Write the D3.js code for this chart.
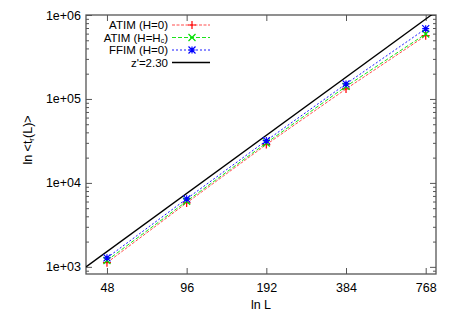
<!DOCTYPE html>
<html>
<head>
<meta charset="utf-8">
<script src="https://cdn.jsdelivr.net/npm/d3@7"></script>
<style>
  body { margin: 0; background: #fff; }
  svg { font-family: "Liberation Sans", Arial, sans-serif; }
</style>
</head>
<body>
<script>
// system sizes and relaxation times
const sizes = [48, 96, 192, 384, 768];
const atimH0 = [1120, 5780, 28600, 131500, 567000];
const atimHc = [1190, 6040, 29900, 141000, 594000];
const ffimH0 = [1280, 6460, 31900, 151000, 687000];

// power law guide: t = fitA * (L / fitL0)^fitZ
const fitZ = 2.30;
const fitA = 1000;
const fitL0 = 40;

const xTicks = [48, 96, 192, 384, 768];
const yTicks = [1e3, 1e4, 1e5, 1e6];

const width = 450, height = 315;
const margin = {left: 86, right: 14, top: 15, bottom: 41};
const iw = width - margin.left - margin.right;
const ih = height - margin.top - margin.bottom;
const fs = "12.5px";

const svg = d3.select("body").append("svg")
    .attr("width", width)
    .attr("height", height);

const x = d3.scaleLog().base(2).domain([40, 840]).range([0, iw]);
const y = d3.scaleLog().domain([822, 1e6]).range([ih, 0]);

svg.append("defs").append("clipPath").attr("id", "clip")
    .append("rect").attr("width", iw).attr("height", ih);

const g = svg.append("g").attr("transform", `translate(${margin.left},${margin.top})`);

const axisColor = "#555";

// minor y ticks (2..9 each decade)
let minorY = [];
for (let d = 100; d < 1e6; d *= 10) {
    for (let k = 2; k < 10; k++) {
        let v = d * k;
        if (v > y.domain()[0] && v < 1e6) minorY.push(v);
    }
}

// y ticks on both sides
g.append("g").call(d3.axisLeft(y).tickValues(yTicks).tickSizeInner(-6).tickSizeOuter(0).tickFormat(d => d3.format(".0e")(d).replace("e+", "e+0")))
    .call(a => a.select(".domain").remove())
    .call(a => a.selectAll("line").attr("stroke", axisColor))
    .call(a => a.selectAll("text").attr("x", -5).attr("fill", "#000").style("font-size", fs).style("font-family", "Liberation Sans, Arial, sans-serif"));
g.append("g").call(d3.axisLeft(y).tickValues(minorY).tickSizeInner(-3).tickSizeOuter(0).tickFormat(""))
    .call(a => a.select(".domain").remove())
    .call(a => a.selectAll("line").attr("stroke", axisColor));
g.append("g").attr("transform", `translate(${iw},0)`)
    .call(d3.axisRight(y).tickValues(yTicks).tickSizeInner(-6).tickSizeOuter(0).tickFormat(""))
    .call(a => a.select(".domain").remove())
    .call(a => a.selectAll("line").attr("stroke", axisColor));
g.append("g").attr("transform", `translate(${iw},0)`)
    .call(d3.axisRight(y).tickValues(minorY).tickSizeInner(-3).tickSizeOuter(0).tickFormat(""))
    .call(a => a.select(".domain").remove())
    .call(a => a.selectAll("line").attr("stroke", axisColor));

// x ticks bottom and top
g.append("g").attr("transform", `translate(0,${ih})`)
    .call(d3.axisBottom(x).tickValues(xTicks).tickSizeInner(-6).tickSizeOuter(0).tickFormat(d3.format("d")))
    .call(a => a.select(".domain").remove())
    .call(a => a.selectAll("line").attr("stroke", axisColor))
    .call(a => a.selectAll("text").attr("y", 9).attr("fill", "#000").style("font-size", fs).style("font-family", "Liberation Sans, Arial, sans-serif"));
g.append("g")
    .call(d3.axisTop(x).tickValues(xTicks).tickSizeInner(-6).tickSizeOuter(0).tickFormat(""))
    .call(a => a.select(".domain").remove())
    .call(a => a.selectAll("line").attr("stroke", axisColor));

// frame
g.append("rect").attr("width", iw).attr("height", ih)
    .attr("fill", "none").attr("stroke", axisColor).attr("stroke-width", 1.3);

const plot = g.append("g").attr("clip-path", "url(#clip)");

// guide line
const fitL = [40, 840];
plot.append("path")
    .attr("d", d3.line().x(d => x(d)).y(d => y(fitA * Math.pow(d / fitL0, fitZ)))(fitL))
    .attr("fill", "none").attr("stroke", "#000").attr("stroke-width", 1.3);

const series = [
    {name: "ATIM (H=0)", values: atimH0, color: "#ff0000", dash: "3,1.5", marker: "plus", w: 0.7},
    {name: "ATIM (H=Hc)", values: atimHc, color: "#00e000", dash: "4,2", marker: "cross", w: 0.9},
    {name: "FFIM (H=0)", values: ffimH0, color: "#0000ff", dash: "2,2", marker: "star", w: 0.9}
];

function markerPath(type, cx, cy, r) {
    let p = d3.path();
    if (type === "plus" || type === "star") {
        p.moveTo(cx - r, cy); p.lineTo(cx + r, cy);
        p.moveTo(cx, cy - r); p.lineTo(cx, cy + r);
    }
    if (type === "cross" || type === "star") {
        p.moveTo(cx - r, cy - r); p.lineTo(cx + r, cy + r);
        p.moveTo(cx - r, cy + r); p.lineTo(cx + r, cy - r);
    }
    return p.toString();
}

const line = d3.line().x(d => x(d[0])).y(d => y(d[1]));

series.forEach(s => {
    const pts = sizes.map((L, i) => [L, s.values[i]]);
    plot.append("path").attr("d", line(pts))
        .attr("fill", "none").attr("stroke", s.color).attr("stroke-width", s.w)
        .attr("stroke-dasharray", s.dash);
    g.append("g").selectAll("path").data(pts).join("path")
        .attr("d", d => markerPath(s.marker, x(d[0]), y(d[1]), s.marker === "plus" ? 4 : 3.5))
        .attr("stroke", s.color).attr("stroke-width", 1.2).attr("fill", "none");
});

// legend
const legend = g.append("g").attr("transform", "translate(0,10)");
const legendItems = series.concat([{name: "z'=2.30", color: "#000", dash: null, marker: null, w: 1.3}]);
legendItems.forEach((s, i) => {
    const ly = i * 12.5;
    const t = legend.append("text").attr("x", 82).attr("y", ly + 4)
        .attr("text-anchor", "end").style("font-size", "11.5px");
    if (s.name === "ATIM (H=Hc)") {
        t.append("tspan").text("ATIM (H=H");
        t.append("tspan").attr("dy", 1.5).style("font-size", "7px").text("c");
        t.append("tspan").attr("dy", -1.5).text(")");
    } else {
        t.text(s.name);
    }
    legend.append("line").attr("x1", 86).attr("x2", 124).attr("y1", ly).attr("y2", ly)
        .attr("stroke", s.color).attr("stroke-width", s.w)
        .attr("stroke-dasharray", s.dash);
    if (s.marker) {
        legend.append("path").attr("d", markerPath(s.marker, 106, ly, s.marker === "plus" ? 4 : 3.5))
            .attr("stroke", s.color).attr("stroke-width", 1.2).attr("fill", "none");
    }
});

// axis labels
svg.append("text").attr("x", margin.left + iw / 2).attr("y", 309)
    .attr("text-anchor", "middle").style("font-size", fs).text("ln L");

const yl = svg.append("text").attr("transform", "translate(32,140) rotate(-90)")
    .attr("text-anchor", "middle").style("font-size", fs);
yl.append("tspan").text("ln <t");
yl.append("tspan").attr("dy", 2).style("font-size", "8px").text("r");
yl.append("tspan").attr("dy", -2).text("(L)>");
</script>
</body>
</html>
